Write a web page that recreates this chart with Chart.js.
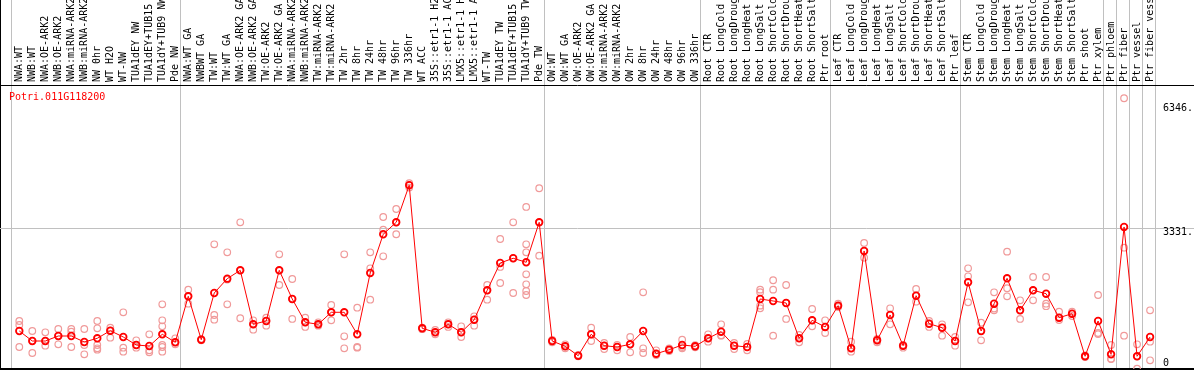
<!DOCTYPE html>
<html>
<head>
<meta charset="utf-8">
<script src="https://cdn.jsdelivr.net/npm/chart.js@4.4.1/dist/chart.umd.min.js"></script>
<style>
  html, body { margin: 0; padding: 0; background: #fff; }
  #wrap { position: relative; width: 1194px; height: 370px; }
</style>
</head>
<body>
<div id="wrap"><canvas id="expr"></canvas></div>
<script>
const geneId = 'Potri.011G118200';

const categories = [
  'NWA:WT', 'NWB:WT', 'NWA:OE-ARK2', 'NWB:OE-ARK2', 'NWA:miRNA-ARK2', 'NWB:miRNA-ARK2',
  'NW 0hr', 'WT H2O', 'WT-NW', 'TUA1dEY NW', 'TUA1dEY+TUB15 NW', 'TUA1dY+TUB9 NW', 'Pde NW',
  'NWA:WT GA', 'NWBWT GA', 'TW:WT', 'TW:WT GA', 'NWA:OE-ARK2 GA', 'NWB:OE-ARK2 GA',
  'TW:OE-ARK2', 'TW:OE-ARK2 GA', 'NWA:miRNA-ARK2 GA', 'NWB:miRNA-ARK2 GA', 'TW:miRNA-ARK2',
  'TW:miRNA-ARK2 GA', 'TW 2hr', 'TW 8hr', 'TW 24hr', 'TW 48hr', 'TW 96hr', 'TW 336hr',
  'WT ACC', '35S::etr1-1 H2O', '35S::etr1-1 ACC', 'LMX5::etr1-1 H2O', 'LMX5::etr1-1 ACC',
  'WT-TW', 'TUA1dEY TW', 'TUA1dEY+TUB15 TW', 'TUA1dY+TUB9 TW', 'Pde TW',
  'OW:WT', 'OW:WT GA', 'OW:OE-ARK2', 'OW:OE-ARK2 GA', 'OW:miRNA-ARK2', 'OW:miRNA-ARK2 GA',
  'OW 2hr', 'OW 8hr', 'OW 24hr', 'OW 48hr', 'OW 96hr', 'OW 336hr',
  'Root CTR', 'Root LongCold', 'Root LongDrought', 'Root LongHeat', 'Root LongSalt',
  'Root ShortCold', 'Root ShortDrought', 'Root ShortHeat', 'Root ShortSalt', 'Ptr root',
  'Leaf CTR', 'Leaf LongCold', 'Leaf LongDrought', 'Leaf LongHeat', 'Leaf LongSalt',
  'Leaf ShortCold', 'Leaf ShortDrought', 'Leaf ShortHeat', 'Leaf ShortSalt', 'Ptr leaf',
  'Stem CTR', 'Stem LongCold', 'Stem LongDrought', 'Stem LongHeat', 'Stem LongSalt',
  'Stem ShortCold', 'Stem ShortDrought', 'Stem ShortHeat', 'Stem ShortSalt', 'Ptr shoot', 'Ptr xylem',
  'Ptr phloem', 'Ptr fiber', 'Ptr vessel', 'Ptr fiber vessel'
];

// first category index of each tissue block (last entry closes the final block)
const groupStarts = [0, 13, 41, 53, 63, 73, 84, 85, 86, 87, 88];

const means = [
  926, 682, 682, 804, 804, 658, 748, 933, 780, 585, 560, 846, 651,
  1772, 714, 1852, 2201, 2405, 1089, 1170, 2405, 1706, 1138, 1089, 1382, 1382, 846,
  2340, 3283, 3575, 4477, 992, 894, 1089, 894, 1201, 1918, 2583, 2698, 2600, 3575,
  682, 553, 324, 846, 568, 536, 602, 926, 373, 470, 585, 553,
  748, 909, 568, 536, 1706, 1657, 1608, 748, 1187, 1024,
  1543, 504, 2876, 699, 1316, 568, 1786, 1104, 1006, 682,
  2113, 926, 1591, 2210, 1430, 1918, 1835, 1250, 1348, 310, 1170,
  358, 3461, 310, 780
];

const samples = [
  [1170, 1072, 536], [926, 682, 390], [894, 682, 568], [975, 804, 602], [975, 909, 536],
  [975, 585, 358], [1170, 992, 585, 504, 470], [1006, 933, 763], [1382, 519, 422],
  [699, 585, 519], [846, 456, 407], [1577, 1187, 1041, 585, 536, 422], [748, 651, 602],
  [1933, 1772, 1591], [700, 714, 730], [3039, 1316, 1201], [2844, 2180, 1577],
  [3575, 2405, 1236], [1187, 1089, 958], [1250, 1170, 1055], [2795, 2405, 2047],
  [2193, 1706, 1219], [1250, 1138, 1024], [1138, 1089, 1055], [1560, 1382, 1187],
  [2795, 797, 504], [1494, 536, 519], [2844, 2454, 1689], [3704, 3395, 2746],
  [3899, 3575, 3283], [4530, 4477, 4420], [1010, 992, 970], [950, 894, 846],
  [1138, 1089, 1024], [1041, 894, 780], [1284, 1201, 1055], [2047, 1918, 1689],
  [3168, 2486, 2096], [3575, 2698, 1852], [3948, 3039, 2844, 2308, 2064, 1901, 1803],
  [4404, 3575, 2761],
  [707, 682, 651], [602, 553, 504], [340, 324, 310], [1006, 846, 682], [634, 568, 487],
  [585, 536, 456], [780, 602, 407], [1869, 504, 390], [456, 373, 341], [504, 470, 439],
  [714, 536, 504], [580, 553, 530],
  [846, 748, 665], [1089, 820, 811], [634, 568, 487], [610, 536, 456],
  [1933, 1870, 1543, 1479], [2162, 1933, 811], [2047, 1608, 1219], [829, 748, 651],
  [1462, 1187, 1041], [1187, 1024, 877],
  [1591, 1543, 1511], [665, 504, 422], [3071, 2876, 2712], [731, 699, 651],
  [1479, 1316, 1089], [585, 568, 519], [1950, 1786, 1640], [1170, 1104, 1024],
  [1089, 1006, 811], [780, 682, 568],
  [2454, 2259, 1625], [1128, 926, 699], [1869, 1474, 1430], [2859, 1967, 1772],
  [1674, 1430, 1219], [2242, 1918, 1674], [2242, 1591, 1530], [1396, 1250, 1194],
  [1396, 1348, 1292], [330, 310, 290], [1803, 877, 850],
  [585, 250, 244], [6597, 2956, 811], [602, 310, 7], [1430, 665, 212]
];

const yLabelTicks = [0, 3331, 6346];
const yLabelText = ['0', '3331.', '6346.'];

const yMax = 6920;
const yGrid = 3428;
const xMin = -1.485;
const xShift = 0.62;
const xMax = groupStarts[groupStarts.length - 1] - xShift;

const monoFont = { family: '"DejaVu Sans Mono", monospace', size: 10 };

const geneTitle = {
  id: 'geneTitle',
  afterDraw(chart) {
    const { ctx, chartArea } = chart;
    ctx.save();
    ctx.font = '10px "DejaVu Sans Mono", monospace';
    ctx.fillStyle = '#ff0000';
    ctx.textBaseline = 'middle';
    ctx.fillText(geneId, chartArea.left + 9, chartArea.top + 12);
    ctx.restore();
  }
};

const ctx = document.getElementById('expr').getContext('2d');
new Chart(ctx, {
  type: 'line',
  data: {
    datasets: [
      {
        label: 'mean',
        data: means.map((v, i) => ({ x: i, y: v })),
        borderColor: '#ff0000',
        borderWidth: 1,
        pointRadius: 3.3,
        pointBorderWidth: 1.8,
        pointBorderColor: '#ff0000',
        pointBackgroundColor: 'rgba(0,0,0,0)',
        tension: 0,
        order: 0
      },
      {
        type: 'scatter',
        label: 'samples',
        data: samples.flatMap((arr, i) => arr.map(v => ({ x: i, y: v }))),
        showLine: false,
        pointRadius: 3.3,
        pointBorderWidth: 1.2,
        pointBorderColor: '#f09a9a',
        pointBackgroundColor: 'rgba(0,0,0,0)',
        order: 1
      }
    ]
  },
  options: {
    responsive: true,
    maintainAspectRatio: false,
    animation: false,
    layout: { autoPadding: false, padding: { left: 0, right: 0, top: 0, bottom: 1 } },
    plugins: {
      legend: { display: false },
      tooltip: { enabled: false }
    },
    scales: {
      x: {
        type: 'linear',
        position: 'top',
        min: xMin,
        max: xMax,
        bounds: 'data',
        border: { display: false },
        afterBuildTicks: scale => {
          const t = [{ value: xMin }];
          groupStarts.forEach(g => t.push({ value: g - xShift }));
          categories.forEach((c, i) => t.push({ value: i }));
          t.sort((a, b) => a.value - b.value);
          scale.ticks = t;
        },
        afterFit: scale => {
          scale.height = 85;
          scale.paddingLeft = 0;
          scale.paddingRight = 0;
        },
        grid: {
          drawTicks: true,
          tickLength: 85,
          lineWidth: 1,
          color: c => {
            const v = c.tick.value;
            if (v === xMin) return '#000000';
            if (Number.isInteger(v)) return 'rgba(0,0,0,0)';
            return '#c0c0c0';
          }
        },
        ticks: {
          autoSkip: false,
          minRotation: 90,
          maxRotation: 90,
          padding: -82,
          labelOffset: 12,
          color: '#000000',
          font: monoFont,
          callback: v => Number.isInteger(v) ? categories[v] : ''
        }
      },
      y: {
        type: 'linear',
        position: 'right',
        min: 0,
        max: yMax,
        bounds: 'data',
        border: { display: false },
        afterBuildTicks: scale => {
          const t = yLabelTicks.map(v => ({ value: v }));
          t.push({ value: yGrid }, { value: yMax });
          t.sort((a, b) => a.value - b.value);
          scale.ticks = t;
        },
        afterFit: scale => {
          scale.width = 39;
          scale.paddingTop = 0;
          scale.paddingBottom = 0;
        },
        grid: {
          drawTicks: true,
          tickLength: 39,
          color: c => {
            const v = c.tick.value;
            if (v === 0 || v === yMax) return '#000000';
            if (v === yGrid) return '#c0c0c0';
            return 'rgba(0,0,0,0)';
          },
          lineWidth: c => (c.tick.value === 0 ? 2 : 1)
        },
        ticks: {
          padding: -31,
          color: '#000000',
          font: monoFont,
          callback: v => {
            const k = yLabelTicks.indexOf(v);
            if (k < 0) return '';
            return v === 0 ? [yLabelText[k], ''] : yLabelText[k];
          }
        }
      }
    }
  },
  plugins: [geneTitle]
});
</script>
</body>
</html>
